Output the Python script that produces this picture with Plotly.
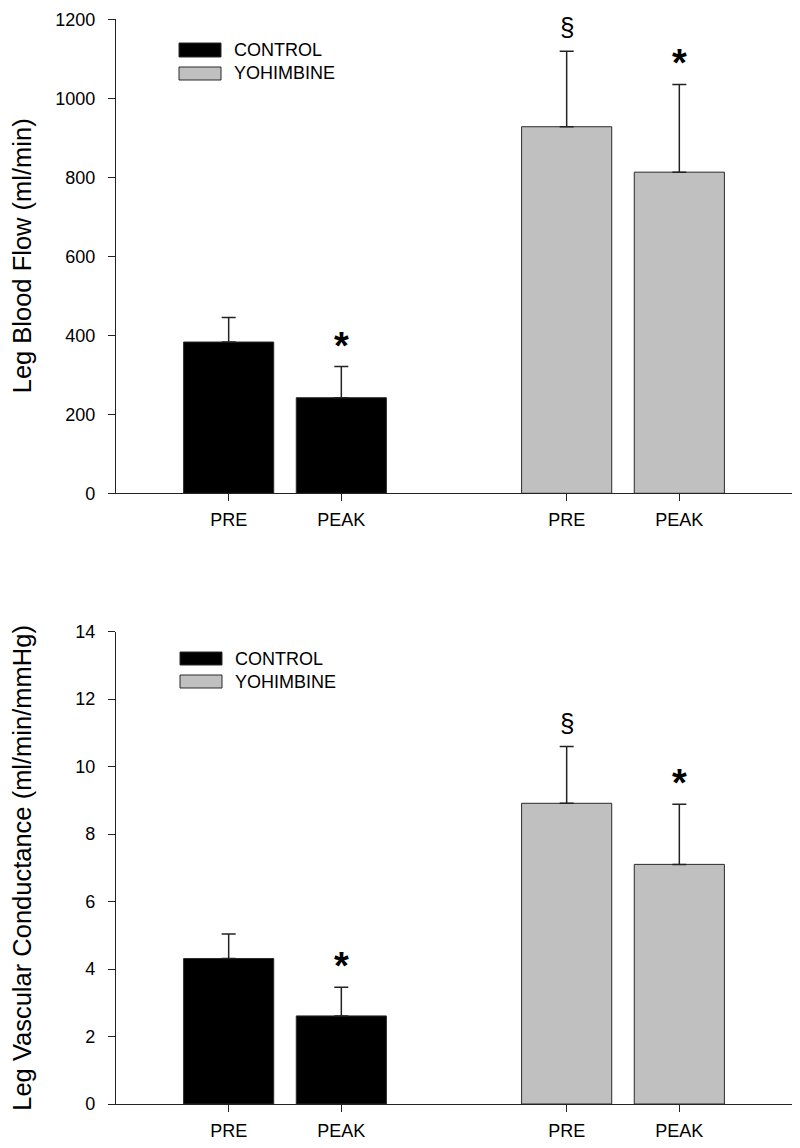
import plotly.graph_objects as go

# ---- data ----
groups = ["CONTROL", "YOHIMBINE"]
conditions = ["PRE", "PEAK"]
tick_labels = ["PRE", "PEAK", "PRE", "PEAK"]

flow_control = [383, 242]
flow_control_err = [62, 79]
flow_yoh = [928, 813]
flow_yoh_err = [191, 222]

cond_control = [4.31, 2.61]
cond_control_err = [0.73, 0.85]
cond_yoh = [8.91, 7.10]
cond_yoh_err = [1.68, 1.78]

marks_control = ["", "*"]
marks_yoh = ["§", "*"]

y_titles = ["Leg Blood Flow (ml/min)", "Leg Vascular Conductance (ml/min/mmHg)"]

# ---- layout helpers ----
pos_control = [1, 2]
pos_yoh = [4, 5]
FONT = "Liberation Sans, Arial, sans-serif"
W, H = 800, 1148
ML, MR = 116, 8
PW = W - ML - MR

def px_x(p):
    return (p - ML) / PW

def px_y(p):
    return 1 - p / H

colors = {"CONTROL": "#000000", "YOHIMBINE": "#c0c0c0"}

fig = go.Figure()

panels = [
    ("x", "y", flow_control, flow_control_err, flow_yoh, flow_yoh_err),
    ("x2", "y2", cond_control, cond_control_err, cond_yoh, cond_yoh_err),
]

for xa, ya, vc, ec, vy, ey in panels:
    for name, pos, vals, errs, marks in [
        ("CONTROL", pos_control, vc, ec, marks_control),
        ("YOHIMBINE", pos_yoh, vy, ey, marks_yoh),
    ]:
        fig.add_trace(go.Bar(
            x=pos, y=vals, width=0.8, name=name, showlegend=False,
            marker=dict(color=colors[name], line=dict(color="#2a2a2a", width=1)),
            error_y=dict(type="data", array=errs, arrayminus=[0] * len(errs),
                         symmetric=False, color="#222222", thickness=1.5, width=7),
            xaxis=xa, yaxis=ya,
        ))
        for p, v, e, m in zip(pos, vals, errs, marks):
            if not m:
                continue
            if m == "*":
                fig.add_annotation(x=p, y=v + e, xref=xa, yref=ya, text="<b>*</b>",
                                   showarrow=False, yanchor="bottom", yshift=-2,
                                   font=dict(family=FONT, size=38, color="black"))
            else:
                fig.add_annotation(x=p, y=v + e, xref=xa, yref=ya, text=m,
                                   showarrow=False, yanchor="bottom", yshift=7,
                                   font=dict(family=FONT, size=26, color="black"))

# y-axis titles
for title, (y0, y1) in zip(y_titles, [(19.3, 493.3), (631.5, 1104)]):
    fig.add_annotation(xref="paper", yref="paper", x=px_x(22), y=px_y((y0 + y1) / 2),
                       text=title, textangle=-90, showarrow=False,
                       xanchor="center", yanchor="middle",
                       font=dict(family=FONT, size=25.5, color="black"))

# custom legends (wide swatches)
legend_specs = [
    (179, 221, [(43, 57), (67, 80)], 232),
    (180, 222, [(652, 665), (675, 688)], 233),
]
for x0, x1, rows, tx in legend_specs:
    for name, (y0, y1) in zip(groups, rows):
        fig.add_shape(type="rect", xref="paper", yref="paper",
                      x0=px_x(x0), x1=px_x(x1), y0=px_y(y1), y1=px_y(y0),
                      fillcolor=colors[name], line=dict(color="#2a2a2a", width=1))
        fig.add_annotation(xref="paper", yref="paper", x=px_x(tx), y=px_y((y0 + y1) / 2),
                           text=name, showarrow=False, xanchor="left", yanchor="middle",
                           font=dict(family=FONT, size=18, color="black"))

axis_common = dict(showline=True, linecolor="#222222", linewidth=1.3, showgrid=False,
                   zeroline=False, ticks="outside", ticklen=7, tickwidth=1.3,
                   tickcolor="#222222", automargin=False,
                   tickfont=dict(family=FONT, size=18, color="black"))

fig.update_layout(
    width=W, height=H,
    margin=dict(l=ML, r=MR, t=0, b=0),
    paper_bgcolor="white", plot_bgcolor="white",
    barmode="overlay",
    xaxis=dict(domain=[0, 1], range=[0, 6], anchor="y", ticklabelstandoff=3,
               tickvals=pos_control + pos_yoh, ticktext=tick_labels, **axis_common),
    yaxis=dict(domain=[px_y(493.3), px_y(19.3)], range=[0, 1200], anchor="x",
               ticklabelstandoff=9, tickvals=[0, 200, 400, 600, 800, 1000, 1200],
               **axis_common),
    xaxis2=dict(domain=[0, 1], range=[0, 6], anchor="y2", ticklabelstandoff=3,
                tickvals=pos_control + pos_yoh, ticktext=tick_labels, **axis_common),
    yaxis2=dict(domain=[px_y(1104), px_y(631.5)], range=[0, 14], anchor="x2",
                ticklabelstandoff=9, tickvals=[0, 2, 4, 6, 8, 10, 12, 14],
                **axis_common),
)

fig.write_html("out.html",
               config={"displayModeBar": False},
               post_script="document.body.style.margin='0px';"
                           "document.body.style.overflow='hidden';")
